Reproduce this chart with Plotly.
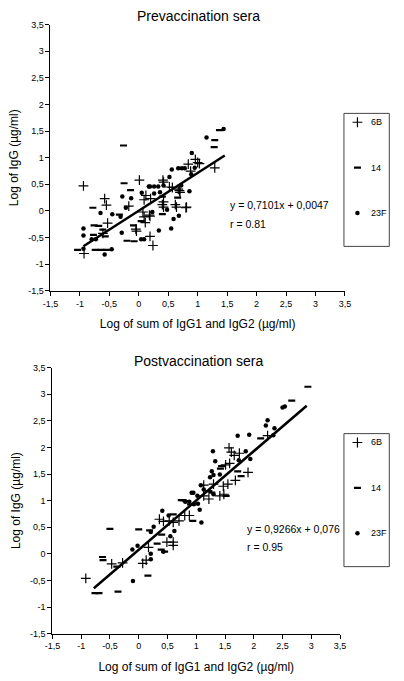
import plotly.graph_objects as go

# ---------------- data: prevaccination ----------------
pre_6b_x = [-0.94, 0.01, -0.58, -0.55, -0.17, -0.53, -0.61, -0.04, 0.19, 0.24, -0.93, 0.12, 0.09, 0.07, 0.09,
            0.11, 0.19, 1.29, 0.96, 1.00, 1.03, 0.84, 0.88, 0.41, 0.42, 0.52, 0.57, 0.69, 0.20, 0.40, 0.42,
            0.62, 0.64, 0.81, 0.18, 0.67, 0.70, 0.80, -0.05, 0.42]
pre_6b_y = [0.47, 0.58, 0.23, 0.11, 0.09, -0.23, -0.42, -0.38, -0.48, -0.65, -0.80, 0.29, 0.21, -0.02, -0.11,
            -0.22, -0.10, 0.81, 0.97, 0.91, 0.89, 0.88, 0.75, 0.58, 0.54, 0.45, 0.44, 0.38, 0.23, 0.12, 0.07,
            0.12, 0.07, 0.07, -0.08, 0.41, 0.35, 0.06, -0.34, 0.17]
pre_14_x = [-0.26, -0.25, -0.14, -0.78, -0.33, -0.76, -0.68, -0.61, -0.09, -0.57, -0.77, -0.20, -0.08, -1.04,
            -0.74, -0.64, -0.55, 0.04, 1.37, 1.29, 1.28, 0.40, 0.66, 0.40]
pre_14_y = [1.23, 0.52, 0.39, 0.06, -0.07, -0.27, -0.28, -0.35, -0.27, -0.48, -0.45, -0.56, -0.57, -0.73,
            -0.73, -0.73, -0.73, -0.19, 1.52, 1.33, 1.20, 0.27, 0.25, -0.06]
pre_23f_x = [0.17, -0.28, -0.13, -0.22, -0.65, -0.45, -0.31, -0.94, -0.94, -0.80, -0.73, -0.29, 0.04, 0.09,
             -0.94, -0.46, -0.58, 0.26, 1.44, 1.15, 0.90, 0.95, 0.78, 0.73, 0.67, 0.56, 0.89, 0.52, 0.19,
             0.26, 0.33, 0.42, 0.72, 0.36, 0.86, 0.48, 0.23, 0.68, 0.59, 0.34, 0.55, 0.05]
pre_23f_y = [0.46, 0.27, 0.24, 0.06, -0.04, -0.06, -0.11, -0.33, -0.46, -0.53, -0.53, -0.41, -0.53, -0.53,
             -0.71, -0.72, -0.82, 0.33, 1.54, 1.38, 1.09, 0.81, 0.80, 0.80, 0.80, 0.78, 0.69, 0.64, 0.46,
             0.46, 0.46, 0.48, 0.48, 0.35, 0.37, 0.02, -0.02, -0.09, -0.15, -0.37, -0.33, 0.34]
pre_slope, pre_intercept = 0.7101, 0.0047
pre_fit_x = [-0.94, 1.46]
pre_eq = "y = 0,7101x + 0,0047"
pre_r = "r = 0.81"

# ---------------- data: postvaccination ----------------
post_6b_x = [-0.92, -0.47, -0.28, 0.17, 0.07, 0.13, 0.36, 0.43, 0.49, 0.60, 0.60, 0.53, 0.60, 0.70, 0.80,
             0.88, 2.24, 1.57, 1.61, 1.66, 1.75, 1.51, 1.58, 1.90, 1.68, 1.47, 1.55, 1.30, 1.13, 1.41, 1.48,
             1.13, 1.22]
post_6b_y = [-0.46, -0.19, -0.17, 0.12, -0.18, -0.12, 0.65, 0.61, 0.22, 0.22, 0.16, 0.62, 0.59, 0.62, 0.72,
             0.72, 2.22, 1.99, 1.91, 1.85, 1.89, 1.67, 1.70, 1.53, 1.38, 1.27, 1.31, 1.31, 1.29, 1.09, 1.12,
             1.09, 1.03]
post_14_x = [2.94, 2.66, 2.12, 1.72, 1.78, 1.44, 1.42, 1.22, 1.27, 1.52, 0.77, 0.82, 0.74, 0.60, 0.94, 0.40,
             0.39, 0.45, 0.32, 0.19, -0.50, 0.00, -0.63, -0.62, -0.38, -0.76, -0.69, -0.36, 0.16, 0.90]
post_14_y = [3.14, 2.88, 2.17, 1.55, 1.46, 1.65, 1.60, 1.18, 1.15, 1.09, 1.01, 0.99, 1.01, 0.74, 0.62, 0.36,
             0.08, 0.04, 0.19, 0.44, 0.47, 0.46, -0.06, -0.12, -0.24, -0.74, -0.74, -0.71, -0.41, 0.93]
post_23f_x = [2.50, 2.54, 2.24, 2.21, 2.36, 2.34, 1.72, 1.92, 1.29, 1.86, 1.74, 1.94, 1.33, 1.27, 1.24, 1.30,
              1.41, 1.08, 1.13, 0.95, 1.02, 1.30, 0.88, 1.03, 0.96, 0.92, 0.81, 1.06, 1.09, 0.41, 0.52, 0.55,
              0.62, 0.43, 0.21, 0.26, 0.21, 0.21, -0.11, -0.02, -0.10]
post_23f_y = [2.75, 2.77, 2.51, 2.41, 2.36, 2.23, 2.22, 2.24, 1.93, 1.93, 1.76, 1.78, 1.74, 1.55, 1.44, 1.48,
              1.49, 1.29, 1.21, 1.15, 1.09, 1.12, 0.98, 0.94, 0.93, 1.15, 0.98, 0.83, 0.59, 0.81, 0.72, 0.33,
              0.43, 0.04, 0.41, 0.51, 0.00, -0.10, 0.08, 0.15, -0.51]
post_slope, post_intercept = 0.9266, 0.076
post_fit_x = [-0.78, 2.92]
post_eq = "y = 0,9266x + 0,076"
post_r = "r = 0.95"

serotypes = ["6B", "14", "23F"]
tick_vals = [-1.5, -1, -0.5, 0, 0.5, 1, 1.5, 2, 2.5, 3, 3.5]
tick_text = ["-1,5", "-1", "-0,5", "0", "0,5", "1", "1,5", "2", "2,5", "3", "3,5"]

W, H = 404, 681
FONT = "Liberation Sans, Arial, sans-serif"


def px_x(p):
    return p / W


def px_y(p):
    return 1 - p / H


marker_styles = {
    "6B": dict(symbol="cross-thin", size=7, color="black", line=dict(color="black", width=1.2)),
    "14": dict(symbol="line-ew", size=5, color="black", line=dict(color="black", width=2.2)),
    "23F": dict(symbol="circle", size=4.5, color="black", line=dict(width=0)),
}

fig = go.Figure()

panels = [
    dict(xa="x", ya="y", lx="x3", ly="y3",
         data=[(pre_6b_x, pre_6b_y), (pre_14_x, pre_14_y), (pre_23f_x, pre_23f_y)],
         slope=pre_slope, intercept=pre_intercept, fit_x=pre_fit_x),
    dict(xa="x2", ya="y2", lx="x4", ly="y4",
         data=[(post_6b_x, post_6b_y), (post_14_x, post_14_y), (post_23f_x, post_23f_y)],
         slope=post_slope, intercept=post_intercept, fit_x=post_fit_x),
]

annotations = []
for p in panels:
    for i, (name, (xs, ys)) in enumerate(zip(serotypes, p["data"])):
        fig.add_trace(go.Scatter(
            x=xs, y=ys, mode="markers", name=name, xaxis=p["xa"], yaxis=p["ya"],
            marker=marker_styles[name], showlegend=False))
        # legend key (drawn in a small hidden axis inside the legend box)
        fig.add_trace(go.Scatter(
            x=[0], y=[i], mode="markers", name=name, xaxis=p["lx"], yaxis=p["ly"],
            marker=marker_styles[name], showlegend=False, hoverinfo="skip"))
        annotations.append(dict(text=name, x=12, y=i, xref=p["lx"], yref=p["ly"], showarrow=False,
                                xanchor="left", yanchor="middle", font=dict(size=9)))
    fx = p["fit_x"]
    fy = [p["slope"] * v + p["intercept"] for v in fx]
    fig.add_trace(go.Scatter(x=fx, y=fy, mode="lines", line=dict(color="black", width=2.5),
                             xaxis=p["xa"], yaxis=p["ya"], showlegend=False, hoverinfo="skip"))

axis_common = dict(range=[-1.5, 3.5], tickvals=tick_vals, ticktext=tick_text, showgrid=False,
                   zeroline=False, showline=True, linecolor="black", linewidth=1, ticks="outside",
                   ticklen=4, tickcolor="black", tickwidth=1, tickfont=dict(size=9, color="black"))
hidden = dict(visible=False, showgrid=False, zeroline=False, fixedrange=True)

xtitle = "Log of sum of IgG1 and IgG2 (µg/ml)"
ytitle = "Log of IgG (µg/ml)"

annotations += [
    dict(text="Prevaccination sera", x=px_x(197), y=px_y(11), xref="paper", yref="paper",
         showarrow=False, font=dict(size=14), xanchor="center", yanchor="middle"),
    dict(text="Postvaccination sera", x=px_x(197), y=px_y(361), xref="paper", yref="paper",
         showarrow=False, font=dict(size=14), xanchor="center", yanchor="middle"),
    dict(text=pre_eq, x=px_x(228), y=px_y(203), xref="paper", yref="paper", showarrow=False,
         font=dict(size=10.5), xanchor="left", yanchor="middle"),
    dict(text=pre_r, x=px_x(228), y=px_y(222), xref="paper", yref="paper", showarrow=False,
         font=dict(size=10.5), xanchor="left", yanchor="middle"),
    dict(text=post_eq, x=px_x(245), y=px_y(532), xref="paper", yref="paper", showarrow=False,
         font=dict(size=10.5), xanchor="left", yanchor="middle"),
    dict(text=post_r, x=px_x(245), y=px_y(550), xref="paper", yref="paper", showarrow=False,
         font=dict(size=10.5), xanchor="left", yanchor="middle"),
]

fig.update_layout(
    width=W, height=H, margin=dict(l=0, r=0, t=0, b=0),
    paper_bgcolor="white", plot_bgcolor="rgba(0,0,0,0)",
    font=dict(family=FONT, color="black"),
    showlegend=False,
    xaxis=dict(axis_common, domain=[px_x(44), px_x(349)], anchor="y",
               title=dict(text=xtitle, font=dict(size=12), standoff=12)),
    yaxis=dict(axis_common, domain=[px_y(290), px_y(20)], anchor="x",
               title=dict(text=ytitle, font=dict(size=12), standoff=6)),
    xaxis2=dict(axis_common, domain=[px_x(46), px_x(344)], anchor="y2",
                title=dict(text=xtitle, font=dict(size=12), standoff=12)),
    yaxis2=dict(axis_common, domain=[px_y(638), px_y(368)], anchor="x2",
                title=dict(text=ytitle, font=dict(size=12), standoff=6)),
    # legend-box axes: x in pixels from key marker, y in item index
    xaxis3=dict(hidden, domain=[px_x(348), px_x(395)], range=[-14, 33], anchor="y3"),
    yaxis3=dict(hidden, domain=[px_y(245), px_y(110)], range=[2 + 34 / 46, -9 / 46], anchor="x3"),
    xaxis4=dict(hidden, domain=[px_x(348), px_x(395)], range=[-14, 33], anchor="y4"),
    yaxis4=dict(hidden, domain=[px_y(570), px_y(435)], range=[2 + 34 / 46, -9 / 46], anchor="x4"),
    shapes=[
        dict(type="rect", xref="paper", yref="paper", x0=px_x(348), x1=px_x(395), y0=px_y(245), y1=px_y(110),
             line=dict(color="#444", width=1)),
        dict(type="rect", xref="paper", yref="paper", x0=px_x(348), x1=px_x(395), y0=px_y(570), y1=px_y(435),
             line=dict(color="#444", width=1)),
    ],
    annotations=annotations,
)

fig.write_html("out.html", config={"displayModeBar": False},
               post_script="document.body.style.margin='0';")
